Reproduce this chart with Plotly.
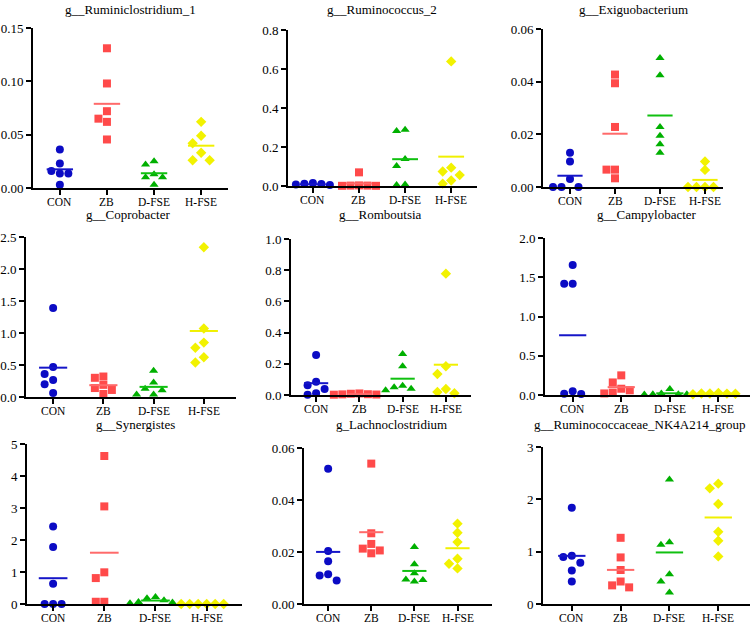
import plotly.graph_objects as go

GROUPS = ["CON", "ZB", "D-FSE", "H-FSE"]

TITLES = ["g__Ruminiclostridium_1", "g__Ruminococcus_2", "g__Exiguobacterium",
          "g__Coprobacter", "g__Romboutsia", "g__Campylobacter",
          "g__Synergistes", "g_Lachnoclostridium", "g__Ruminococcaceae_NK4A214_group"]

# values per group: CON, ZB, D-FSE, H-FSE
RUMINICLOSTRIDIUM_1 = [[0.036, 0.023, 0.016, 0.0135, 0.0135, 0.003],
                       [0.131, 0.098, 0.072, 0.065, 0.062, 0.0455],
                       [0.025, 0.022, 0.013, 0.010, 0.010, 0.003],
                       [0.062, 0.049, 0.042, 0.033, 0.026, 0.026]]
RUMINOCOCCUS_2 = [[0.015, 0.012, 0.010, 0.008, 0.005, 0.003],
                  [0.070, 0.003, 0.002, 0.002, 0.001, 0.001],
                  [0.289, 0.282, 0.138, 0.103, 0.008, 0.005],
                  [0.639, 0.094, 0.074, 0.056, 0.028, 0.012]]
EXIGUOBACTERIUM = [[0.013, 0.0097, 0.003, 0.0, 0.0, 0.0],
                   [0.0427, 0.0394, 0.0228, 0.0066, 0.0066, 0.0033],
                   [0.049, 0.0424, 0.0228, 0.0195, 0.0162, 0.013],
                   [0.0097, 0.0065, 0.0, 0.0, 0.0, 0.0]]
COPROBACTER = [[1.39, 0.47, 0.36, 0.267, 0.20, 0.063],
               [0.32, 0.30, 0.19, 0.14, 0.11, 0.047],
               [0.41, 0.225, 0.13, 0.105, 0.04, 0.04],
               [2.34, 1.07, 0.85, 0.77, 0.62, 0.54]]
ROMBOUTSIA = [[0.256, 0.085, 0.062, 0.038, 0.011, 0.002],
              [0.010, 0.008, 0.005, 0.004, 0.003, 0.002],
              [0.263, 0.184, 0.06, 0.05, 0.04, 0.03],
              [0.778, 0.184, 0.135, 0.038, 0.019, 0.011]]
CAMPYLOBACTER = [[1.657, 1.416, 1.416, 0.047, 0.017, 0.013],
                 [0.25, 0.16, 0.08, 0.06, 0.03, 0.02],
                 [0.076, 0.02, 0.01, 0.01, 0.008, 0.005],
                 [0.025, 0.02, 0.018, 0.02, 0.015, 0.01]]
SYNERGISTES = [[2.42, 1.78, 0.635, 0.0, 0.0, 0.0],
               [4.625, 3.05, 0.99, 0.81, 0.07, 0.07],
               [0.22, 0.18, 0.12, 0.06, 0.05, 0.02],
               [0.002, 0.002, 0.001, 0.001, 0.0, 0.0]]
LACHNOCLOSTRIDIUM = [[0.052, 0.0204, 0.0164, 0.0114, 0.011, 0.009],
                     [0.054, 0.0272, 0.0231, 0.0213, 0.0206, 0.0195],
                     [0.0219, 0.0153, 0.0118, 0.0094, 0.0092, 0.0087],
                     [0.0309, 0.0274, 0.0238, 0.0174, 0.0155, 0.0137]]
NK4A214 = [[1.84, 0.92, 0.90, 0.79, 0.64, 0.43],
           [1.265, 0.89, 0.65, 0.43, 0.356, 0.318],
           [2.38, 1.18, 1.13, 0.57, 0.43, 0.22],
           [2.30, 2.21, 1.91, 1.38, 1.21, 0.91]]

DATA = [RUMINICLOSTRIDIUM_1, RUMINOCOCCUS_2, EXIGUOBACTERIUM,
        COPROBACTER, ROMBOUTSIA, CAMPYLOBACTER,
        SYNERGISTES, LACHNOCLOSTRIDIUM, NK4A214]

Y_MAX = [0.15, 0.8, 0.06, 2.5, 1.0, 2.0, 5, 0.06, 3]
Y_DTICK = [0.05, 0.2, 0.02, 0.5, 0.2, 0.5, 1, 0.02, 1]
Y_FMT = [".2f", ".1f", ".2f", ".1f", ".1f", ".1f", "d", ".2f", "d"]

# ---- layout / style ----
W, H = 750, 623
FONT = "Liberation Serif, Times New Roman, serif"
COLORS = ["#0B0BC4", "#FF4A4A", "#00B000", "#F2F200"]
LINE_COLORS = ["#1515C8", "#FF6A6A", "#10C010", "#F0F000"]
SYMBOLS = ["circle", "square", "triangle-up", "diamond"]
SIZES = [8, 8, 8, 8]

# pixel boxes: left, right, top, bottom
BOXES = [(33, 228, 28, 188), (288, 477, 30, 186), (543, 723, 29, 187),
         (26, 236, 237, 397), (291, 471, 239, 395), (545, 750, 238, 395),
         (27, 242, 444, 604), (304, 492, 448, 604), (543, 750, 447, 604)]
XRANGES = [(-0.57, 3.57), (-0.54, 3.56), (-0.6, 3.4),
           (-0.54, 3.64), (-0.58, 3.58), (-0.57, 3.65),
           (-0.51, 3.69), (-0.56, 3.8), (-0.59, 3.65)]
TITLE_POS = [(130, 9), (382, 9), (633, 9),
             (128, 214), (380, 214), (647, 214),
             (135, 424), (392, 424), (640, 424)]
XLABEL_GAP = 14


def swarm(vals, ypx, catpx, step=8.5, diam=8.0):
    placed = []
    out = []
    for v in vals:
        py = v * ypx
        chosen = 0
        for k in [0, -1, 1, -2, 2, -3, 3, -4, 4]:
            px = k * step
            if all((px - a) ** 2 + (py - b) ** 2 >= diam ** 2 for a, b in placed):
                chosen = px
                break
        placed.append((chosen, py))
        out.append(chosen / catpx)
    return out


fig = go.Figure()
layout = dict(template="none", width=W, height=H,
              margin=dict(l=0, r=0, t=0, b=0, pad=0, autoexpand=False),
              paper_bgcolor="white", plot_bgcolor="white", showlegend=False,
              font=dict(family=FONT, color="black"))
annotations = []

for p in range(9):
    n = p + 1
    xs = "x" if n == 1 else f"x{n}"
    ys = "y" if n == 1 else f"y{n}"
    l, r, t, b = BOXES[p]
    xr = XRANGES[p]
    ypx = (b - t) / Y_MAX[p]
    catpx = (r - l) / (xr[1] - xr[0])
    for g in range(4):
        vals = DATA[p][g]
        offs = swarm(vals, ypx, catpx)
        fig.add_trace(go.Scatter(
            x=[g + o for o in offs], y=vals, mode="markers", xaxis=xs, yaxis=ys,
            cliponaxis=False,
            marker=dict(symbol=SYMBOLS[g], size=SIZES[g], color=COLORS[g],
                        line=dict(width=0)),
            hoverinfo="y"))
        m = sum(vals) / len(vals)
        fig.add_trace(go.Scatter(
            x=[g - 0.28, g + 0.28], y=[m, m], mode="lines", xaxis=xs, yaxis=ys,
            cliponaxis=False, line=dict(color=LINE_COLORS[g], width=2),
            hoverinfo="skip"))
        annotations.append(dict(text=GROUPS[g], x=g, xref=xs,
                                y=1 - (b + XLABEL_GAP) / H, yref="paper",
                                showarrow=False, xanchor="center", yanchor="middle",
                                font=dict(family=FONT, size=11.5, color="black")))
    xkey = "xaxis" if n == 1 else f"xaxis{n}"
    ykey = "yaxis" if n == 1 else f"yaxis{n}"
    layout[xkey] = dict(domain=[l / W, r / W], anchor=ys, range=list(xr),
                        automargin=False,
                        tickvals=[0, 1, 2, 3], showticklabels=False,
                        showline=True, linewidth=2, linecolor="black",
                        ticks="outside", ticklen=5, tickwidth=2, tickcolor="black",
                        showgrid=False, zeroline=False)
    layout[ykey] = dict(domain=[1 - b / H, 1 - t / H], anchor=xs,
                        range=[0, Y_MAX[p]], dtick=Y_DTICK[p], tick0=0,
                        tickformat=Y_FMT[p], automargin=False,
                        showline=True, linewidth=2, linecolor="black",
                        ticks="outside", ticklen=5, tickwidth=2, tickcolor="black",
                        showgrid=False, zeroline=False,
                        tickfont=dict(family=FONT, size=13, color="black"))
    cx, cy = TITLE_POS[p]
    annotations.append(dict(text=TITLES[p], x=cx / W, y=1 - cy / H,
                            xref="paper", yref="paper", showarrow=False,
                            xanchor="center", yanchor="middle",
                            font=dict(family=FONT, size=13, color="black")))

layout["annotations"] = annotations
fig.update_layout(**layout)
fig.write_html("out.html", config={"displayModeBar": False},
               post_script="document.body.style.margin='0px';"
                           "document.body.style.overflow='hidden';")
